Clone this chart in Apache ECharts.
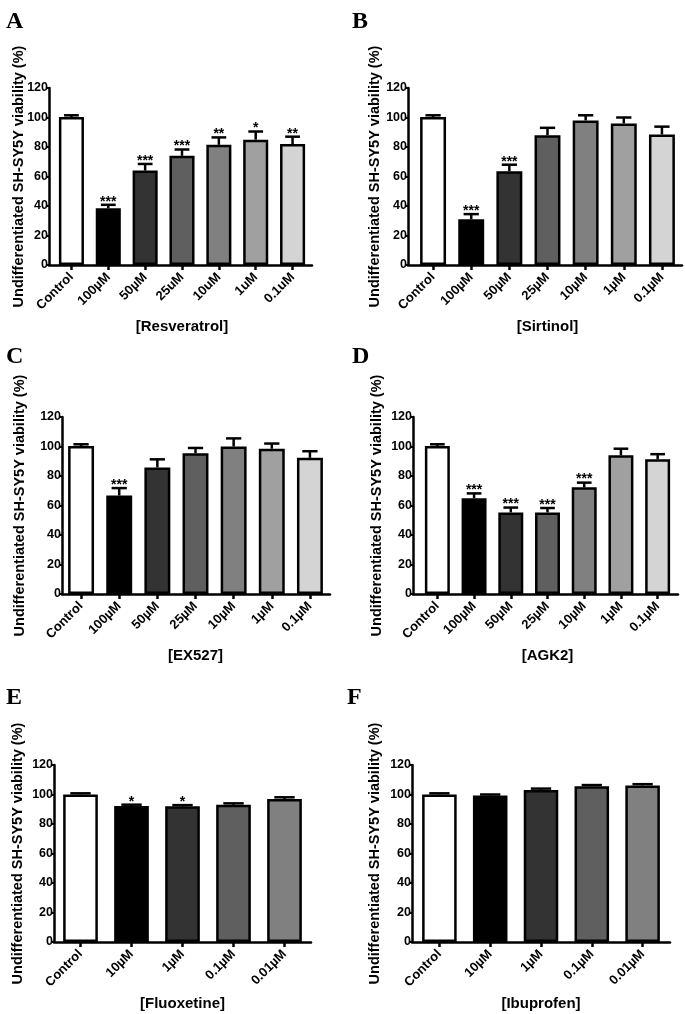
<!DOCTYPE html>
<html>
<head>
<meta charset="utf-8">
<script src="https://cdn.jsdelivr.net/npm/echarts@6/dist/echarts.min.js"></script>
<style>
html,body{margin:0;padding:0;background:#fff;}
#chart{width:685px;height:1014px;}
</style>
</head>
<body>
<div id="chart"></div>
<script>
// ---- Data ----
const yTicks = [0, 20, 40, 60, 80, 100, 120];
const yLabel = 'Undifferentiated SH-SY5Y viability (%)';

const catsA = ['Control', '100\u00b5M', '50\u00b5M', '25uM', '10uM', '1uM', '0.1uM'];
const meanA = [100.3, 38.5, 64, 74, 81.5, 85, 82];
const semA  = [1.2, 2.3, 4.5, 4.3, 5, 5.5, 5];
const starA = ['', '***', '***', '***', '**', '*', '**'];

const catsB = ['Control', '100\u00b5M', '50\u00b5M', '25\u00b5M', '10\u00b5M', '1\u00b5M', '0.1\u00b5M'];
const meanB = [100.3, 31, 63.5, 88, 98, 96, 88.5];
const semB  = [1.2, 3.5, 4.5, 5, 3.5, 4, 5.3];
const starB = ['', '***', '***', '', '', '', ''];

const catsC = ['Control', '100\u00b5M', '50\u00b5M', '25\u00b5M', '10\u00b5M', '1\u00b5M', '0.1\u00b5M'];
const meanC = [100.3, 66.8, 85.8, 95.5, 100, 98.5, 92.3];
const semC  = [1.2, 5, 5.5, 3.5, 5.5, 3.5, 4.5];
const starC = ['', '***', '', '', '', '', ''];

const catsD = ['Control', '100\u00b5M', '50\u00b5M', '25\u00b5M', '10\u00b5M', '1\u00b5M', '0.1\u00b5M'];
const meanD = [100.3, 65, 55.3, 55.3, 72.3, 94, 91.3];
const semD  = [1.2, 3.2, 3.3, 3, 3.2, 4.5, 3.5];
const starD = ['', '***', '***', '***', '***', '', ''];

const catsE = ['Control', '10\u00b5M', '1\u00b5M', '0.1\u00b5M', '0.01\u00b5M'];
const meanE = [100, 92.2, 92, 93, 97];
const semE  = [0.8, 0.9, 0.8, 1, 1.1];
const starE = ['', '*', '*', '', ''];

const catsF = ['Control', '10\u00b5M', '1\u00b5M', '0.1\u00b5M', '0.01\u00b5M'];
const meanF = [100, 99.3, 103, 105.6, 106.1];
const semF  = [0.8, 0.7, 1, 0.8, 0.9];
const starF = ['', '', '', '', ''];

const colors7 = ['#ffffff', '#000000', '#333333', '#5f5f5f', '#808080', '#a0a0a0', '#d4d4d4'];
const colors5 = ['#ffffff', '#000000', '#333333', '#5f5f5f', '#808080'];

// ---- Layout (axis frame: ax..axEnd ; category band area: b0..b1) ----
const panels = [
  {letter:'A', cats:catsA, mean:meanA, sem:semA, star:starA, colors:colors7, drug:'[Resveratrol]',
   ax:49, axEnd:312, b0:53, b1:311, top:88, lx:6, ly:10, yGap:23},
  {letter:'B', cats:catsB, mean:meanB, sem:semB, star:starB, colors:colors7, drug:'[Sirtinol]',
   ax:408, axEnd:682, b0:414, b1:681, top:88, lx:352, ly:10, yGap:25.5},
  {letter:'C', cats:catsC, mean:meanC, sem:semC, star:starC, colors:colors7, drug:'[EX527]',
   ax:62, axEnd:330, b0:62, b1:329, top:417, lx:6, ly:345, yGap:34.5},
  {letter:'D', cats:catsD, mean:meanD, sem:semD, star:starD, colors:colors7, drug:'[AGK2]',
   ax:413, axEnd:678, b0:419, b1:676, top:417, lx:352, ly:345, yGap:28.5},
  {letter:'E', cats:catsE, mean:meanE, sem:semE, star:starE, colors:colors5, drug:'[Fluoxetine]',
   ax:54, axEnd:311, b0:55, b1:310, top:765, lx:6, ly:686, yGap:28.5},
  {letter:'F', cats:catsF, mean:meanF, sem:semF, star:starF, colors:colors5, drug:'[Ibuprofen]',
   ax:412, axEnd:670, b0:414, b1:668, top:765, lx:347, ly:686, yGap:29.5}
];
const PLOT_H = 177;

const FONT = 'Liberation Sans, Arial, sans-serif';
const option = {
  backgroundColor: '#ffffff',
  animation: false,
  title: [], grid: [], xAxis: [], yAxis: [], series: []
};

panels.forEach((p, k) => {
  const gFrame = 2 * k, gData = 2 * k + 1;
  option.title.push({
    text: p.letter, left: p.lx, top: p.ly, padding: 0,
    textStyle: {fontFamily: 'Liberation Serif, Times New Roman, serif', fontWeight: 'bold', fontSize: 24, color: '#000'}
  });
  // frame grid: y axis + full x-axis line
  option.grid.push({left: p.ax, top: p.top, width: p.axEnd - p.ax, height: PLOT_H});
  // data grid: category bands
  option.grid.push({left: p.b0, top: p.top, width: p.b1 - p.b0, height: PLOT_H});

  option.xAxis.push({
    type: 'value', gridIndex: gFrame, min: 0, max: 1,
    axisLine: {show: true, onZero: false, lineStyle: {color: '#000', width: 2.5}},
    axisTick: {show: false}, axisLabel: {show: false}, splitLine: {show: false}
  });
  option.yAxis.push({
    type: 'value', gridIndex: gFrame, min: yTicks[0], max: yTicks[yTicks.length - 1], interval: 20,
    name: yLabel, nameLocation: 'middle', nameRotate: 90, nameGap: p.yGap, nameMoveOverlap: false,
    nameTextStyle: {fontFamily: FONT, fontWeight: 'bold', fontSize: 14.5, color: '#000'},
    axisLine: {show: true, lineStyle: {color: '#000', width: 2.5}},
    axisTick: {show: true, length: 3, lineStyle: {color: '#000', width: 2}},
    axisLabel: {margin: 1, fontFamily: FONT, fontWeight: 'bold', fontSize: 12.5, color: '#000'},
    splitLine: {show: false}
  });

  option.xAxis.push({
    type: 'category', gridIndex: gData, data: p.cats,
    name: p.drug, nameLocation: 'middle', nameGap: 54,
    nameTextStyle: {fontFamily: FONT, fontWeight: 'bold', fontSize: 15, color: '#000'},
    axisLine: {show: false},
    axisTick: {show: true, alignWithLabel: true, length: 5, lineStyle: {color: '#000', width: 2.5}},
    axisLabel: {rotate: 45, margin: 10, interval: 0, fontFamily: FONT, fontWeight: 'bold', fontSize: 13, color: '#000'},
    splitLine: {show: false}
  });
  option.yAxis.push({
    type: 'value', gridIndex: gData, min: yTicks[0], max: yTicks[yTicks.length - 1], interval: 20,
    show: false
  });

  const xi = gData, yi = gData;
  option.series.push({
    type: 'bar', xAxisIndex: xi, yAxisIndex: yi, barWidth: '68%',
    data: p.mean.map((v, i) => ({value: v, itemStyle: {color: p.colors[i]}})),
    itemStyle: {borderColor: '#000', borderWidth: 2.5},
    z: 2
  });
  const sem = p.sem, star = p.star;
  option.series.push({
    type: 'custom', xAxisIndex: xi, yAxisIndex: yi, z: 5,
    data: p.mean.map((v, i) => [i, v, sem[i]]),
    renderItem: function (params, api) {
      const i = api.value(0), m = api.value(1), s = api.value(2);
      const pTop = api.coord([i, m]);
      const pErr = api.coord([i, m + s]);
      const band = api.size([1, 0])[0];
      const half = band * 0.2;
      const children = [
        {type: 'line', shape: {x1: pTop[0], y1: pTop[1], x2: pErr[0], y2: pErr[1]},
         style: {stroke: '#000', lineWidth: 2.5}},
        {type: 'line', shape: {x1: pErr[0] - half, y1: pErr[1], x2: pErr[0] + half, y2: pErr[1]},
         style: {stroke: '#000', lineWidth: 2.5}}
      ];
      const st = star[params.dataIndex];
      if (st) {
        children.push({type: 'text', x: pErr[0], y: pErr[1] + 4,
          style: {text: st, fill: '#000', font: 'bold 14px ' + FONT, align: 'center', verticalAlign: 'bottom'}});
      }
      return {type: 'group', children: children};
    }
  });
});

const chart = echarts.init(document.getElementById('chart'), null, {renderer: 'canvas'});
chart.setOption(option);
</script>
</body>
</html>
